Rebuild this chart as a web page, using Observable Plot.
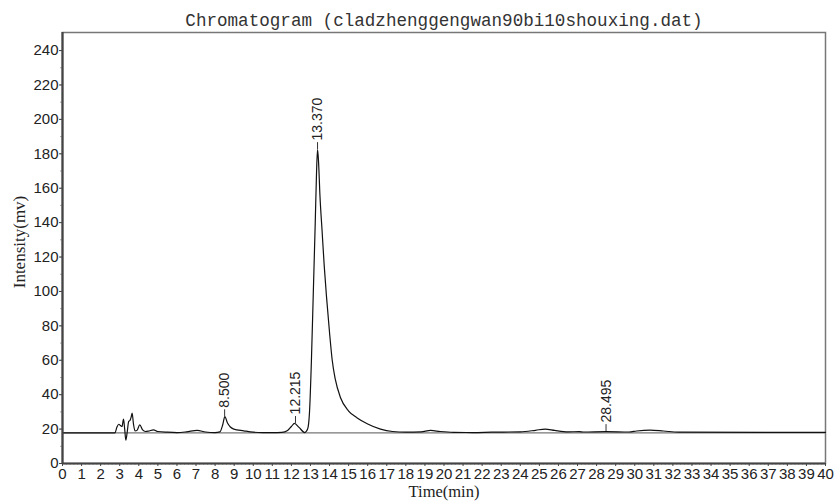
<!DOCTYPE html>
<html><head><meta charset="utf-8">
<script src="https://cdn.jsdelivr.net/npm/d3@7"></script>
<script src="https://cdn.jsdelivr.net/npm/@observablehq/plot@0.6"></script>
<style>body{margin:0;background:#fff} #chart svg{display:block}</style>
</head><body><div id="chart"></div>
<script>
const titleText = "Chromatogram (cladzhenggengwan90bi10shouxing.dat)";
const xLabel = "Time(min)";
const yLabel = "Intensity(mv)";
const times = [0, 2.75, 2.85, 2.95, 3.05, 3.12, 3.2, 3.26, 3.32, 3.4, 3.47, 3.53, 3.6, 3.65, 3.72, 3.8, 3.9, 4.05, 4.2, 4.35, 4.5, 4.77, 5.0, 5.5, 6.0, 6.5, 7.06, 7.5, 8.0, 8.25, 8.4, 8.51, 8.65, 8.8, 8.98, 9.5, 10, 10.5, 11.0, 11.5, 11.8, 12.0, 12.16, 12.4, 12.7, 12.85, 12.95, 13.05, 13.15, 13.25, 13.32, 13.37, 13.42, 13.5, 13.61, 13.72, 13.84, 14.0, 14.14, 14.3, 14.57, 15.0, 15.45, 16.0, 16.67, 17.3, 18.0, 18.8, 19.3, 19.8, 20.5, 21.5, 22.5, 24.0, 24.8, 25.3, 25.8, 26.5, 27.1, 27.3, 28.5, 29.7, 30.1, 30.8, 31.5, 32.3, 40];
const intensity = [17.8, 17.8, 21, 22.8, 22, 21.5, 25.8, 20, 13.6, 19, 24.5, 24.9, 27, 29.3, 23, 19, 19.2, 22.4, 19.5, 18.6, 18.8, 19.6, 18.6, 18.2, 18.0, 18.4, 19.2, 18.3, 18.0, 18.4, 22.5, 27.2, 23.5, 21.2, 20, 19.0, 18.2, 18.0, 18.0, 18.1, 19.2, 21.5, 23.3, 21, 18.0, 20, 30, 60, 100, 140, 170, 182.5, 176, 155, 135, 115, 97, 76, 60, 49, 38.4, 30.5, 26.5, 23, 20, 18.6, 18.2, 18.4, 19.2, 18.6, 18.1, 18.0, 18.2, 18.4, 19.3, 20, 19.2, 18.4, 18.5, 18.3, 18.5, 18.3, 18.9, 19.4, 18.9, 18.2, 18.1];
const peakTimes = [8.5, 12.215, 13.37, 28.495];
const peakHeights = [27.2, 23.3, 182.5, 18.6];
const peakLabels = ["8.500", "12.215", "13.370", "28.495"];
const baselineLevel = 17.8;
const xTicks = d3.range(0, 41);
const yTicks = d3.range(0, 241, 20);
const xMinor = d3.range(0, 40.01, 0.2);
const yMinor = d3.range(0, 250, 10);
const xDomain = [0, 40];
const yDomain = [0, 250.5];

const trace = times.map((t, i) => ({t, v: intensity[i]}));
const peaks = peakTimes.map((t, i) => ({t, h: peakHeights[i], label: peakLabels[i]}));

const chart = Plot.plot({
  width: 836,
  height: 502,
  marginLeft: 62,
  marginRight: 11,
  marginTop: 32,
  marginBottom: 39,
  style: {fontFamily: "'Liberation Sans', Arial, sans-serif", fontSize: "15px", color: "#222", background: "#fff"},
  x: {domain: xDomain},
  y: {domain: yDomain},
  marks: [
    Plot.frame({stroke: "#777", strokeWidth: 1.5}),
    Plot.axisX(xMinor, {tickSize: 2, text: null, label: null, stroke: "#aaa"}),
    Plot.axisY(yMinor, {tickSize: 2, text: null, label: null, stroke: "#aaa"}),
    Plot.axisX(xTicks, {tickSize: 3, tickPadding: 2, tickFormat: d => d, label: null, fontSize: 15, stroke: "#444"}),
    Plot.axisY(yTicks, {tickSize: 3, tickPadding: 1, tickFormat: d => d, label: null, fontSize: 15, stroke: "#444"}),
    Plot.ruleY([baselineLevel], {stroke: "#777", strokeWidth: 1.2}),
    Plot.line(trace, {x: "t", y: "v", stroke: "#111", strokeWidth: 1.2, curve: "monotone-x"}),
    Plot.ruleX(peaks, {x: "t", y1: "h", y2: d => d.h + 4, stroke: "#333", strokeWidth: 1}),
    Plot.text(peaks, {x: "t", y: "h", text: "label", rotate: -90, textAnchor: "start", dy: -9, fontSize: 14, fill: "#222", fontFamily: "'Liberation Sans', Arial, sans-serif"}),
    Plot.ruleX(xDomain.slice(0, 1), {stroke: "#444", strokeWidth: 2.2}),
    Plot.ruleY(yDomain.slice(0, 1), {stroke: "#444", strokeWidth: 2.2}),
    Plot.text([titleText], {text: d => d, frameAnchor: "top", lineAnchor: "middle", dy: -12, fontFamily: "'Liberation Mono', 'DejaVu Sans Mono', monospace", fontSize: 17.6, fill: "#333"}),
    Plot.text([yLabel], {text: d => d, frameAnchor: "left", textAnchor: "middle", lineAnchor: "middle", rotate: -90, dx: -43, dy: -6, fontFamily: "'Liberation Serif', 'Times New Roman', serif", fontSize: 17, fill: "#222"}),
    Plot.text([xLabel], {text: d => d, frameAnchor: "bottom", lineAnchor: "middle", dy: 28, fontFamily: "'Liberation Serif', 'Times New Roman', serif", fontSize: 16.5, fill: "#222"})
  ]
});
document.getElementById("chart").appendChild(chart);
</script>
</body></html>
